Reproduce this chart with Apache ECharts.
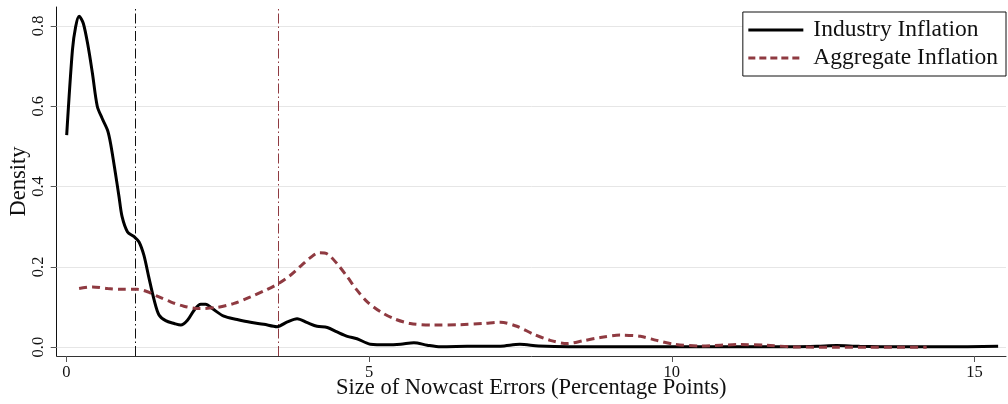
<!DOCTYPE html>
<html><head><meta charset="utf-8">
<script src="https://cdn.jsdelivr.net/npm/echarts@6/dist/echarts.min.js"></script>
<style>html,body{margin:0;padding:0;background:#fff}#c{width:1008px;height:404px}</style>
</head><body><div id="c"></div>
<script>
const xTicks = [0, 5, 10, 15];
const yTicks = [0, 0.2, 0.4, 0.6, 0.8];
const yTickLabels = ['0.0', '0.2', '0.4', '0.6', '0.8'];
const industryX = [0.005,0.10,0.153,0.21,0.28,0.36,0.43,0.51,0.59,0.68,0.73,0.81,0.87,0.92,1.01,1.12,1.20,1.28,1.36,1.45,1.53,1.64,1.78,1.89,2.00,2.11,2.22,2.30,2.41,2.60,2.82,3.04,3.26,3.48,3.65,3.81,3.98,4.14,4.31,4.47,4.64,4.80,5.02,5.30,5.52,5.74,5.96,6.18,6.62,7.17,7.49,7.80,8.3,9.0,10.0,11.0,12.0,12.4,12.72,13.1,13.8,14.5,15.39];
const industryY = [0.528,0.740,0.798,0.824,0.806,0.748,0.682,0.600,0.570,0.540,0.507,0.433,0.374,0.325,0.287,0.275,0.262,0.229,0.175,0.117,0.080,0.066,0.059,0.055,0.067,0.092,0.107,0.107,0.096,0.077,0.069,0.062,0.057,0.051,0.063,0.071,0.061,0.052,0.049,0.038,0.027,0.021,0.0075,0.006,0.0075,0.011,0.005,0.001,0.002,0.0025,0.007,0.003,0.001,0.001,0.001,0.001,0.001,0.002,0.004,0.002,0.001,0.001,0.002];
const aggregateX = [0.21,0.43,0.68,0.90,1.17,1.34,1.50,1.72,1.94,2.19,2.49,2.77,3.04,3.32,3.51,3.70,3.87,4.03,4.17,4.31,4.47,4.64,4.80,4.97,5.19,5.41,5.68,6.07,6.51,6.89,7.17,7.44,7.72,7.99,8.27,8.54,8.82,9.15,9.48,9.75,10.03,10.47,11.13,11.57,12.01,12.67,13.22,14.21];
const aggregateY = [0.146,0.150,0.146,0.144,0.144,0.138,0.127,0.113,0.102,0.096,0.099,0.109,0.125,0.144,0.159,0.179,0.202,0.223,0.235,0.232,0.208,0.175,0.142,0.113,0.088,0.071,0.059,0.055,0.056,0.059,0.062,0.052,0.032,0.017,0.009,0.016,0.024,0.030,0.027,0.017,0.0075,0.003,0.0065,0.005,0.0005,0.0,0.0,0.0];
const vLineIndustry = 1.14;
const vLineAggregate = 3.50;
const seriesNames = ['Industry Inflation', 'Aggregate Inflation'];

const FONT = 'Liberation Serif';
const RED = '#8f3a41';
const zip = (xs, ys) => xs.map((x, i) => [x, ys[i]]);

const chart = echarts.init(document.getElementById('c'), null, {renderer: 'canvas'});
chart.setOption({
  animation: false,
  backgroundColor: '#fff',
  textStyle: {fontFamily: FONT, color: '#111'},
  grid: {left: 56.7, right: 2, top: 7, bottom: 48, containLabel: false, outerBoundsMode: 'none'},
  xAxis: {
    type: 'value', min: -0.16, max: 15.52,
    name: 'Size of Nowcast Errors (Percentage Points)',
    nameLocation: 'middle', nameGap: 21, nameMoveOverlap: false,
    nameTextStyle: {fontFamily: FONT, fontSize: 22.5, color: '#111'},
    axisLine: {show: true, onZero: false, lineStyle: {color: '#333', width: 1}},
    axisTick: {show: true, length: 6, lineStyle: {color: '#555'}, customValues: xTicks},
    axisLabel: {fontFamily: FONT, fontSize: 16.5, color: '#111', margin: 8, customValues: xTicks, formatter: v => String(v)},
    splitLine: {show: false}
  },
  yAxis: {
    type: 'value', min: -0.022, max: 0.847,
    name: 'Density', nameLocation: 'middle', nameGap: 26, nameRotate: 90, nameMoveOverlap: false,
    nameTextStyle: {fontFamily: FONT, fontSize: 22.5, color: '#111'},
    axisLine: {show: true, onZero: false, lineStyle: {color: '#111', width: 1}},
    axisTick: {show: true, length: 6, lineStyle: {color: '#555'}, customValues: yTicks},
    axisLabel: {fontFamily: FONT, fontSize: 16.5, color: '#111', margin: 10, rotate: 90, customValues: yTicks,
      formatter: v => { const i = yTicks.findIndex(t => Math.abs(t - v) < 1e-9); return i >= 0 ? yTickLabels[i] : ''; }},
    splitLine: {show: false}
  },
  legend: {
    right: 2, top: 12, orient: 'vertical', z: 20,
    backgroundColor: '#fff', borderColor: '#111', borderWidth: 1,
    padding: [6, 8, 6, 4], itemGap: 4, itemWidth: 55, itemHeight: 22,
    itemStyle: {opacity: 0},
    textStyle: {fontFamily: FONT, fontSize: 23.5, color: '#111', padding: [0, 0, 0, 5]},
    data: [
      {name: seriesNames[0], lineStyle: {color: '#000', width: 3, type: 'solid'}},
      {name: seriesNames[1], lineStyle: {color: RED, width: 3, type: [7, 4]}}
    ]
  },
  series: [
    {
      name: seriesNames[0], type: 'line', smooth: 0.3, symbol: 'none', z: 2,
      lineStyle: {color: '#000', width: 3}, itemStyle: {color: '#000'},
      data: zip(industryX, industryY),
      markLine: {
        silent: true, symbol: 'none', label: {show: false}, animation: false, z: 1,
        data: [
          ...yTicks.map(v => ({yAxis: v, lineStyle: {color: '#e6e6e6', width: 1, type: 'solid'}})),
          {xAxis: vLineIndustry, lineStyle: {color: '#111', width: 1, type: [10, 3, 1.5, 3]}},
          {xAxis: vLineAggregate, lineStyle: {color: RED, width: 1, type: [10, 3, 1.5, 3]}}
        ]
      }
    },
    {
      name: seriesNames[1], type: 'line', smooth: 0.3, symbol: 'none', z: 3,
      lineStyle: {color: RED, width: 3, type: [8, 5]}, itemStyle: {color: RED},
      data: zip(aggregateX, aggregateY)
    }
  ]
});
</script></body></html>
